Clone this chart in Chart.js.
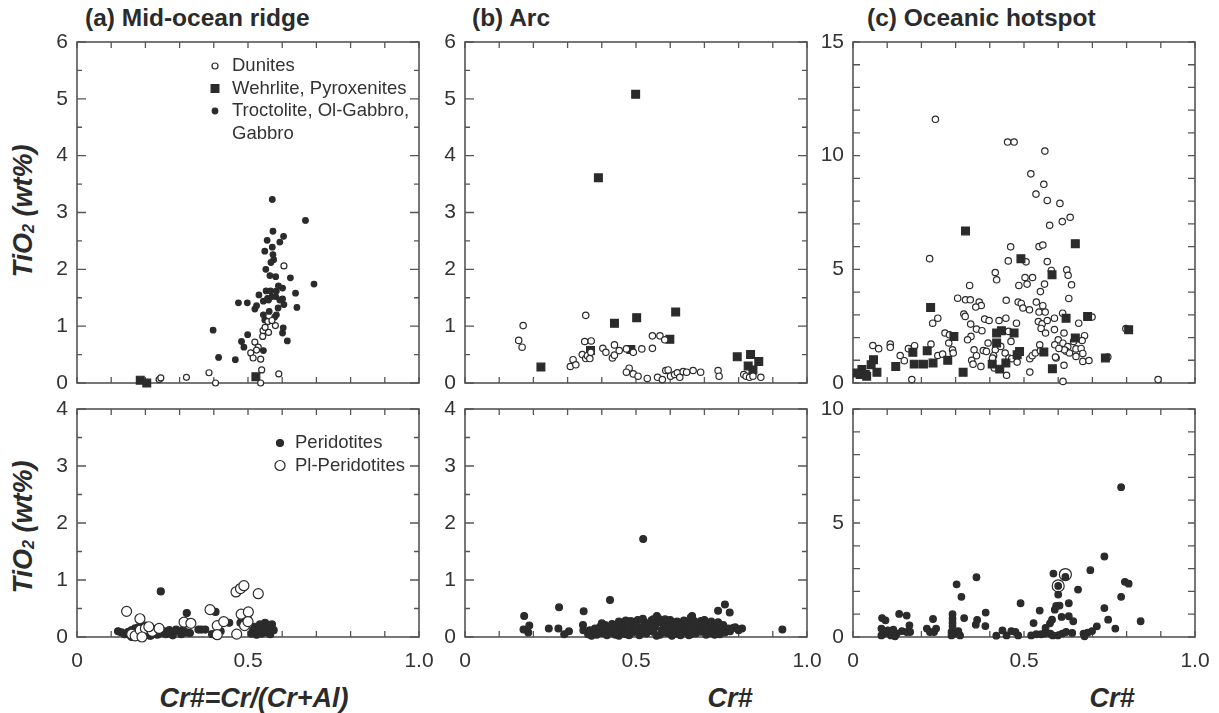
<!DOCTYPE html>
<html>
<head>
<meta charset="utf-8">
<script src="https://cdn.jsdelivr.net/npm/chart.js@4.4.0/dist/chart.umd.min.js"></script>
<style>
    body { margin: 0; background: #fff; width: 1219px; height: 713px; position: relative; overflow: hidden;
           font-family: "Liberation Sans", Arial, Helvetica, sans-serif; color: #333; }
    canvas { position: absolute; }
    .titulo { position: absolute; font-weight: bold; font-size: 24.5px; line-height: 24px; white-space: nowrap; color: #2b2b2b; }
    .eje { position: absolute; font-weight: bold; font-style: italic; white-space: nowrap; color: #2b2b2b;
           transform: translate(-50%, -50%); font-size: 27px; line-height: 27px; }
    .ejeY { transform: translate(-50%, -50%) rotate(-90deg); }
    .eje sub { font-size: 60%; vertical-align: -2px; }
</style>
</head>
<body>
<div class="titulo" style="left:85px; top:6px;">(a) Mid-ocean ridge</div>
<div class="titulo" style="left:472px; top:6px;">(b) Arc</div>
<div class="titulo" style="left:867px; top:6px;">(c) Oceanic hotspot</div>
<div class="eje ejeY" style="left:26px; top:211px;">TiO<sub>2</sub> (wt%)</div>
<div class="eje ejeY" style="left:26px; top:527px;">TiO<sub>2</sub> (wt%)</div>
<div class="eje" style="left:254px; top:698px;">Cr#=Cr/(Cr+Al)</div>
<div class="eje" style="left:730px; top:698px;">Cr#</div>
<div class="eje" style="left:1112px; top:698px;">Cr#</div>

<canvas id="aArriba" width="427" height="369" style="left:17px; top:22px;"></canvas>
<canvas id="bArriba" width="427" height="369" style="left:405px; top:22px;"></canvas>
<canvas id="cArriba" width="427" height="369" style="left:793px; top:22px;"></canvas>
<canvas id="aAbajo" width="427" height="293" style="left:17px; top:389px;"></canvas>
<canvas id="bAbajo" width="427" height="293" style="left:405px; top:389px;"></canvas>
<canvas id="cAbajo" width="427" height="293" style="left:793px; top:389px;"></canvas>

<script>
// Etiquetas del eje X (solo fila inferior)
const xTickLabels = ['0', '0.5', '1.0'];

// (a) Dorsal mesoceánica - arriba
const dorsalDunitas = [[0.24,0.06],[0.245,0.09],[0.32,0.10],[0.386,0.18],[0.405,0.0],[0.54,0.23],[0.537,0.0],
    [0.59,0.16],[0.605,2.06],[0.558,1.08],[0.58,1.01],[0.57,1.1],[0.544,0.92],[0.56,0.89],[0.543,0.82],[0.52,0.72],
    [0.53,0.63],[0.508,0.53],[0.515,0.44],[0.537,0.42],[0.525,0.58],[0.55,0.98]];
const dorsalWehrlitas = [[0.185,0.05],[0.204,0.0],[0.523,0.11]];
const dorsalGabros = [[0.571,3.23],[0.668,2.86],[0.573,2.67],[0.556,2.51],[0.604,2.58],[0.571,2.39],[0.549,2.32],
    [0.593,2.48],[0.573,2.26],[0.575,2.17],[0.552,2.0],[0.564,1.89],[0.581,1.87],[0.624,1.85],[0.693,1.74],[0.589,1.71],
    [0.601,1.67],[0.566,1.62],[0.639,1.58],[0.557,1.49],[0.532,1.55],[0.581,1.52],[0.601,1.48],[0.605,1.38],[0.643,1.33],
    [0.545,1.44],[0.472,1.41],[0.498,1.41],[0.525,1.36],[0.52,1.30],[0.562,1.26],[0.583,1.20],[0.545,1.20],[0.549,1.11],
    [0.603,0.97],[0.601,0.88],[0.398,0.93],[0.499,0.85],[0.481,0.73],[0.488,0.63],[0.545,0.57],[0.615,0.74],[0.414,0.45],
    [0.463,0.41],[0.560,1.46],[0.570,1.52],[0.593,1.46],[0.578,1.16],[0.588,1.32],[0.553,1.62],[0.583,1.62],[0.567,2.12]];

// (a) Dorsal mesoceánica - abajo
const dorsalPeridotitas = [[0.12,0.10],[0.13,0.08],[0.14,0.05],[0.15,0.09],[0.155,0.03],[0.16,0.12],[0.165,0.06],
    [0.17,0.15],[0.175,0.02],[0.18,0.10],[0.185,0.18],[0.19,0.05],[0.195,0.13],[0.20,0.08],[0.205,0.16],[0.21,0.03],
    [0.215,0.11],[0.22,0.07],[0.225,0.14],[0.23,0.09],[0.235,0.04],[0.24,0.12],[0.245,0.80],[0.25,0.07],[0.255,0.10],
    [0.26,0.05],[0.27,0.12],[0.275,0.08],[0.28,0.03],[0.29,0.13],[0.30,0.09],[0.305,0.05],[0.31,0.12],[0.32,0.08],
    [0.321,0.42],[0.33,0.07],[0.355,0.13],[0.364,0.13],[0.375,0.13],[0.395,0.05],[0.405,0.44],[0.42,0.10],[0.445,0.25],
    [0.478,0.25],[0.49,0.34],[0.50,0.31],[0.51,0.06],[0.515,0.12],[0.52,0.18],[0.525,0.04],[0.53,0.10],[0.535,0.22],
    [0.54,0.06],[0.545,0.15],[0.55,0.25],[0.555,0.08],[0.56,0.18],[0.565,0.05],[0.57,0.22],[0.575,0.12],[0.18,0.17],
    [0.20,0.20],[0.215,0.02],[0.16,0.0],[0.19,0.0]];
const dorsalPlPeridotitas = [[0.145,0.45],[0.184,0.32],[0.16,0.05],[0.17,0.02],[0.185,0.12],[0.20,0.15],[0.22,0.10],
    [0.24,0.15],[0.19,0.0],[0.21,0.18],[0.313,0.26],[0.333,0.24],[0.389,0.48],[0.41,0.20],[0.41,0.04],[0.429,0.27],
    [0.465,0.79],[0.478,0.85],[0.488,0.90],[0.53,0.76],[0.48,0.40],[0.501,0.44],[0.49,0.20],[0.50,0.27],[0.467,0.05]];

// (b) Arco - arriba
const arcoDunitas = [[0.17,1.01],[0.157,0.75],[0.167,0.63],[0.308,0.29],[0.316,0.41],[0.324,0.32],[0.353,1.19],
    [0.35,0.73],[0.369,0.74],[0.343,0.50],[0.353,0.43],[0.358,0.48],[0.368,0.54],[0.365,0.43],[0.403,0.61],[0.412,0.54],
    [0.437,0.67],[0.431,0.44],[0.437,0.49],[0.451,0.57],[0.472,0.60],[0.492,0.54],[0.517,0.60],[0.548,0.61],[0.548,0.83],
    [0.57,0.83],[0.584,0.76],[0.48,0.26],[0.472,0.19],[0.492,0.16],[0.506,0.12],[0.533,0.08],[0.563,0.10],[0.577,0.06],
    [0.587,0.22],[0.594,0.23],[0.601,0.12],[0.613,0.15],[0.621,0.18],[0.628,0.10],[0.638,0.20],[0.648,0.19],[0.667,0.22],
    [0.689,0.19],[0.74,0.22],[0.743,0.12],[0.815,0.15],[0.822,0.12],[0.832,0.10],[0.842,0.12],[0.865,0.10]];
const arcoWehrlitas = [[0.499,5.08],[0.39,3.61],[0.222,0.28],[0.437,1.05],[0.502,1.15],[0.616,1.25],[0.599,0.77],
    [0.485,0.59],[0.367,0.57],[0.796,0.46],[0.835,0.50],[0.859,0.38],[0.828,0.30],[0.842,0.23]];

// (b) Arco - abajo
const arcoPeridotitas = [[0.36,0.05],[0.365,0.12],[0.37,0.02],[0.375,0.09],[0.38,0.15],[0.385,0.04],[0.39,0.11],
    [0.395,0.18],[0.40,0.07],[0.405,0.14],[0.41,0.21],[0.415,0.03],[0.42,0.10],[0.425,0.17],[0.43,0.23],[0.435,0.06],
    [0.44,0.13],[0.445,0.20],[0.45,0.02],[0.455,0.09],[0.46,0.16],[0.465,0.25],[0.47,0.05],[0.475,0.12],[0.48,0.19],
    [0.485,0.28],[0.49,0.08],[0.495,0.15],[0.50,0.22],[0.505,0.30],[0.51,0.03],[0.515,0.11],[0.52,0.18],[0.525,0.26],
    [0.53,0.06],[0.535,0.14],[0.54,0.21],[0.545,0.29],[0.55,0.09],[0.555,0.17],[0.56,0.24],[0.565,0.33],[0.57,0.04],
    [0.575,0.12],[0.58,0.20],[0.585,0.31],[0.59,0.07],[0.595,0.15],[0.60,0.23],[0.605,0.02],[0.61,0.10],[0.615,0.18],
    [0.62,0.27],[0.625,0.05],[0.63,0.13],[0.635,0.21],[0.64,0.08],[0.645,0.16],[0.65,0.24],[0.655,0.03],[0.66,0.11],
    [0.665,0.19],[0.67,0.28],[0.675,0.06],[0.68,0.14],[0.685,0.22],[0.69,0.09],[0.695,0.17],[0.70,0.30],[0.705,0.04],
    [0.71,0.12],[0.715,0.20],[0.72,0.07],[0.725,0.15],[0.73,0.23],[0.735,0.10],[0.74,0.18],[0.745,0.05],[0.75,0.13],
    [0.755,0.21],[0.76,0.08],[0.40,0.24],[0.45,0.27],[0.47,0.29],[0.50,0.12],[0.52,0.32],[0.53,0.19],[0.55,0.31],
    [0.57,0.28],[0.58,0.09],[0.60,0.30],[0.61,0.25],[0.63,0.03],[0.64,0.29],[0.66,0.34],[0.68,0.25],[0.70,0.19],
    [0.72,0.27],[0.74,0.26],[0.73,0.04],[0.48,0.03],[0.56,0.02],[0.62,0.14],[0.66,0.05],[0.69,0.28],[0.44,0.04],
    [0.521,1.72],[0.424,0.65],[0.76,0.57],[0.774,0.43],[0.74,0.46],[0.275,0.52],[0.347,0.45],[0.173,0.37],[0.664,0.37],
    [0.561,0.37],[0.171,0.13],[0.188,0.20],[0.185,0.08],[0.245,0.15],[0.273,0.15],[0.304,0.10],[0.29,0.05],[0.345,0.21],
    [0.346,0.12],[0.928,0.13],[0.81,0.15],[0.784,0.16],[0.79,0.17],[0.80,0.12],[0.77,0.15],[0.775,0.10]];

// (c) Punto caliente oceánico - arriba
const calienteDunitas = [[0.241,11.6],[0.452,10.6],[0.471,10.6],[0.561,10.2],[0.52,9.2],[0.558,8.74],[0.535,8.31],
    [0.568,8.03],[0.605,7.9],[0.612,7.1],[0.635,7.29],[0.575,6.94],[0.461,5.99],[0.544,6.0],[0.555,6.07],[0.224,5.47],
    [0.454,5.37],[0.506,5.33],[0.568,5.34],[0.625,4.98],[0.58,4.95],[0.629,4.74],[0.416,4.86],[0.42,4.54],[0.503,4.64],
    [0.525,4.64],[0.509,4.35],[0.485,4.29],[0.56,4.35],[0.639,4.32],[0.341,4.29],[0.548,4.02],[0.631,3.72],[0.306,3.73],
    [0.329,3.66],[0.343,3.66],[0.448,3.64],[0.369,3.56],[0.375,3.41],[0.359,3.34],[0.483,3.56],[0.492,3.5],[0.497,3.3],
    [0.536,3.56],[0.555,3.4],[0.516,3.22],[0.544,3.12],[0.562,3.12],[0.324,3.03],[0.328,2.93],[0.447,2.85],[0.385,2.81],
    [0.398,2.75],[0.427,2.75],[0.248,2.85],[0.233,2.63],[0.344,2.59],[0.478,2.63],[0.542,2.7],[0.553,2.6],[0.568,2.75],
    [0.589,2.85],[0.613,3.07],[0.66,2.63],[0.699,2.9],[0.798,2.39],[0.361,2.37],[0.377,2.30],[0.55,2.4],[0.563,2.2],
    [0.589,2.35],[0.617,2.2],[0.269,2.2],[0.282,2.12],[0.455,2.27],[0.345,2.05],[0.335,1.9],[0.462,1.83],[0.28,1.76],
    [0.395,1.76],[0.677,2.08],[0.67,1.87],[0.645,1.83],[0.6,1.9],[0.614,1.75],[0.59,1.68],[0.628,1.6],[0.623,1.4],
    [0.652,1.5],[0.667,1.52],[0.672,1.3],[0.652,1.17],[0.633,1.32],[0.618,1.46],[0.602,1.52],[0.594,1.1],[0.058,1.65],
    [0.075,1.51],[0.109,1.71],[0.109,1.57],[0.138,1.21],[0.15,0.98],[0.162,1.51],[0.18,1.64],[0.228,1.71],[0.248,1.21],
    [0.262,1.27],[0.291,1.46],[0.293,1.32],[0.354,1.46],[0.361,1.2],[0.347,1.0],[0.351,0.83],[0.374,0.73],[0.381,1.43],
    [0.39,1.39],[0.416,1.46],[0.411,1.2],[0.408,1.1],[0.432,1.61],[0.445,1.32],[0.456,1.1],[0.464,1.07],[0.48,0.92],
    [0.413,0.66],[0.449,0.34],[0.517,0.48],[0.517,1.07],[0.524,1.2],[0.546,1.68],[0.533,1.32],[0.548,1.42],[0.592,1.14],
    [0.617,0.78],[0.672,0.95],[0.69,0.99],[0.745,1.14],[0.172,0.15],[0.614,0.07],[0.892,0.15]];
const calienteWehrlitas = [[0.329,6.69],[0.65,6.13],[0.491,5.47],[0.582,4.76],[0.227,3.32],[0.623,2.85],[0.686,2.93],
    [0.806,2.34],[0.434,2.30],[0.42,2.2],[0.471,2.2],[0.295,2.05],[0.42,1.76],[0.65,1.98],[0.217,1.42],[0.175,1.35],
    [0.487,1.39],[0.48,1.24],[0.558,1.36],[0.277,1.0],[0.738,1.10],[0.125,0.73],[0.179,0.83],[0.206,0.83],[0.234,0.88],
    [0.407,0.83],[0.447,0.88],[0.322,0.47],[0.429,0.61],[0.583,0.63],[0.06,1.02],[0.053,0.80],[0.026,0.59],[0.021,0.37],
    [0.036,0.37],[0.07,0.47],[0.012,0.44],[0.04,0.3]];

// (c) Punto caliente oceánico - abajo
const calientePeridotitas = [[0.784,6.57],[0.735,3.53],[0.694,2.93],[0.586,2.78],[0.621,2.64],[0.361,2.62],[0.303,2.31],
    [0.795,2.42],[0.806,2.34],[0.6,2.24],[0.658,2.08],[0.317,1.76],[0.6,1.86],[0.784,1.76],[0.49,1.48],[0.631,1.48],
    [0.594,1.36],[0.604,1.38],[0.59,1.2],[0.735,1.27],[0.546,1.16],[0.388,1.07],[0.291,1.0],[0.135,1.01],[0.157,0.94],
    [0.085,0.83],[0.095,0.73],[0.325,0.83],[0.234,0.79],[0.291,0.8],[0.291,0.63],[0.61,0.88],[0.631,0.91],[0.746,0.76],
    [0.841,0.69],[0.363,0.75],[0.582,0.76],[0.576,0.6],[0.644,0.69],[0.528,0.61],[0.359,0.54],[0.387,0.48],[0.165,0.51],
    [0.563,0.4],[0.713,0.47],[0.767,0.37],[0.291,0.47],[0.083,0.37],[0.091,0.15],[0.102,0.29],[0.118,0.32],[0.128,0.15],
    [0.143,0.26],[0.157,0.22],[0.167,0.22],[0.083,0.07],[0.111,0.07],[0.123,0.03],[0.216,0.37],[0.225,0.22],[0.243,0.37],
    [0.237,0.22],[0.288,0.22],[0.298,0.15],[0.308,0.26],[0.288,0.07],[0.313,0.07],[0.419,0.06],[0.437,0.29],[0.449,0.07],
    [0.463,0.26],[0.475,0.22],[0.483,0.07],[0.521,0.07],[0.536,0.12],[0.55,0.12],[0.56,0.15],[0.577,0.15],[0.584,0.07],
    [0.599,0.07],[0.612,0.15],[0.623,0.22],[0.641,0.18],[0.674,0.15],[0.686,0.19],[0.699,0.26],[0.677,0.03]];
const calientePlPeridotitas = [[0.621,2.74],[0.6,2.24]];

const NEGRO = '#2b2b2b';

function Serie(puntos, estilo, radio, relleno) {
    return {
        data: puntos.map(p => ({ x: p[0], y: p[1] })),
        pointStyle: estilo,
        pointRadius: radio,
        pointHoverRadius: radio,
        backgroundColor: relleno === true ? NEGRO : (relleno === false ? '#ffffff' : 'rgba(0,0,0,0)'),
        borderColor: NEGRO,
        borderWidth: 1.2,
        clip: false
    };
}

// Marco con marcas hacia adentro en los cuatro lados
const marcoConTicks = {
    id: 'marcoConTicks',
    beforeDatasetsDraw(chart, args, opts) {
        const { ctx, chartArea: a, scales: { x, y } } = chart;
        ctx.save();
        ctx.strokeStyle = '#555';
        ctx.lineWidth = 1.6;
        ctx.strokeRect(a.left, a.top, a.right - a.left, a.bottom - a.top);
        ctx.lineWidth = 1.3;
        ctx.beginPath();
        for (let i = 0; i <= 10; i++) {
            const px = x.getPixelForValue(i / 10);
            ctx.moveTo(px, a.bottom); ctx.lineTo(px, a.bottom - 6);
            ctx.moveTo(px, a.top); ctx.lineTo(px, a.top + 6);
        }
        const n = Math.round(opts.yMax / opts.yMenor);
        for (let i = 0; i <= n; i++) {
            const v = i * opts.yMenor;
            const py = y.getPixelForValue(v);
            const r = v / opts.yLargo;
            const largo = Math.abs(r - Math.round(r)) < 1e-6 ? opts.largoMayor : 5;
            ctx.moveTo(a.left, py); ctx.lineTo(a.left + largo, py);
            ctx.moveTo(a.right, py); ctx.lineTo(a.right - largo, py);
        }
        ctx.stroke();
        ctx.restore();
    }
};

// Leyenda dibujada dentro del área del gráfico
const leyendaInterna = {
    id: 'leyendaInterna',
    afterDatasetsDraw(chart, args, opts) {
        if (!opts.items) return;
        const { ctx, chartArea: a } = chart;
        ctx.save();
        ctx.font = '18.5px "Liberation Sans", Arial, sans-serif';
        ctx.textBaseline = 'middle';
        let fila = 0;
        opts.items.forEach(item => {
            const yy = a.top + opts.y + fila * opts.alto;
            const xs = a.left + opts.xSimbolo;
            ctx.fillStyle = item.relleno ? NEGRO : '#fff';
            ctx.strokeStyle = NEGRO;
            ctx.lineWidth = 1.2;
            ctx.beginPath();
            if (item.estilo === 'rect') {
                const s = item.radio * Math.SQRT1_2;
                ctx.rect(xs - s, yy - s, 2 * s, 2 * s);
            } else {
                ctx.arc(xs, yy, item.radio, 0, Math.PI * 2);
            }
            ctx.fill();
            ctx.stroke();
            ctx.fillStyle = '#333';
            item.lineas.forEach((linea, k) => {
                ctx.fillText(linea, a.left + opts.xTexto, yy + k * opts.alto);
            });
            fila += item.lineas.length;
        });
        ctx.restore();
    }
};

function CrearPanel(idCanvas, datasets, ejeY, filaInferior, leyenda) {
    const ctx = document.getElementById(idCanvas);
    return new Chart(ctx, {
        type: 'scatter',
        data: { datasets: datasets },
        options: {
            responsive: false,
            animation: false,
            events: [],
            layout: { padding: { top: 20, right: 25, bottom: filaInferior ? 5 : 8, left: 0 } },
            scales: {
                x: {
                    type: 'linear', min: 0, max: 1,
                    grid: { display: false, drawTicks: false },
                    border: { display: false },
                    ticks: {
                        display: filaInferior, stepSize: 0.5, autoSkip: false, maxRotation: 0,
                        padding: 12, color: '#333', font: { size: 21 },
                        callback: (v, i) => xTickLabels[i]
                    },
                    afterFit: s => { s.height = filaInferior ? 40 : 0; s.paddingLeft = 0; s.paddingRight = 0; }
                },
                y: {
                    type: 'linear', min: 0, max: ejeY.max,
                    grid: { display: false, drawTicks: false },
                    border: { display: false },
                    ticks: {
                        stepSize: ejeY.paso, padding: 9, color: '#333', font: { size: 21 },
                        callback: v => String(v)
                    },
                    afterFit: s => { s.width = 60; s.paddingTop = 0; s.paddingBottom = 0; }
                }
            },
            plugins: {
                legend: { display: false },
                tooltip: { enabled: false },
                marcoConTicks: { yMax: ejeY.max, yMenor: ejeY.menor, yLargo: ejeY.largo, largoMayor: ejeY.largoMayor },
                leyendaInterna: leyenda || {}
            }
        },
        plugins: [marcoConTicks, leyendaInterna]
    });
}

Chart.defaults.font.family = '"Liberation Sans", Arial, Helvetica, sans-serif';
Chart.defaults.color = '#333';

const ejeSeis = { max: 6, paso: 1, menor: 0.5, largo: 1, largoMayor: 9 };
const ejeCuatro = { max: 4, paso: 1, menor: 0.5, largo: 1, largoMayor: 9 };

CrearPanel('aArriba', [
    Serie(dorsalDunitas, 'circle', 3, false),
    Serie(dorsalWehrlitas, 'rect', 5.5, true),
    Serie(dorsalGabros, 'circle', 2.8, true)
], ejeSeis, false, {
    xSimbolo: 138, xTexto: 155, y: 24, alto: 22.5,
    items: [
        { estilo: 'circle', radio: 3, relleno: false, lineas: ['Dunites'] },
        { estilo: 'rect', radio: 5.5, relleno: true, lineas: ['Wehrlite, Pyroxenites'] },
        { estilo: 'circle', radio: 2.8, relleno: true, lineas: ['Troctolite, Ol-Gabbro,', 'Gabbro'] }
    ]
});

CrearPanel('aAbajo', [
    Serie(dorsalPlPeridotitas, 'circle', 5, false),
    Serie(dorsalPeridotitas, 'circle', 3.5, true)
], ejeCuatro, true, {
    xSimbolo: 203, xTexto: 218, y: 34, alto: 22.5,
    items: [
        { estilo: 'circle', radio: 3.5, relleno: true, lineas: ['Peridotites'] },
        { estilo: 'circle', radio: 5, relleno: false, lineas: ['Pl-Peridotites'] }
    ]
});

CrearPanel('bArriba', [
    Serie(arcoDunitas, 'circle', 3.2, false),
    Serie(arcoWehrlitas, 'rect', 5.5, true)
], ejeSeis, false);

CrearPanel('bAbajo', [
    Serie(arcoPeridotitas, 'circle', 3.4, true)
], ejeCuatro, true);

CrearPanel('cArriba', [
    Serie(calienteWehrlitas, 'rect', 5.5, true),
    Serie(calienteDunitas, 'circle', 3.2, false)
], { max: 15, paso: 5, menor: 1, largo: 1, largoMayor: 7 }, false);

CrearPanel('cAbajo', [
    Serie(calientePeridotitas, 'circle', 3.3, true),
    Serie(calientePlPeridotitas, 'circle', 6, null)
], { max: 10, paso: 5, menor: 1, largo: 1, largoMayor: 7 }, true);
</script>
</body>
</html>
